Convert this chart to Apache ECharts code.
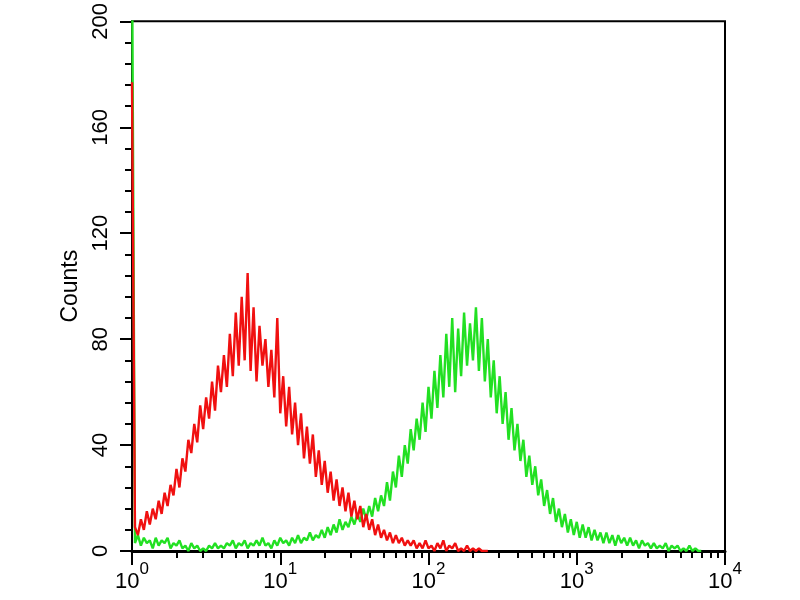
<!DOCTYPE html>
<html>
<head>
<meta charset="utf-8">
<script src="https://cdn.jsdelivr.net/npm/echarts@6/dist/echarts.min.js"></script>
<style>html,body{margin:0;padding:0;background:#fff}#c{width:800px;height:600px}</style>
</head>
<body>
<div id="c"></div>
<script>
// Histogram channels: log10 position of channel i = i * channelStep
var channelStep = 0.02;
// Counts per channel (isotype control, red)
var redCounts = [177,9,6,12,8,15,10,16,12,19,14,22,17,25,21,31,24,35,30,42,
  37,48,41,55,46,58,50,64,53,70,60,74,62,82,66,90,70,96,72,105,
  68,92,64,85,70,80,62,76,58,88,52,66,47,62,44,56,40,52,35,47,
  33,44,28,38,25,34,22,30,19,27,17,24,15,22,13,19,12,17,9,14,
  8,12,6,10,5,8,4,7,3,6,3,5,2,4,2,4,1,3,1,4,
  1,2,0,3,1,4,0,2,1,3,0,1,0,2,0,1,0,1,0,0,0];
// Counts per channel (stained sample, green)
var greenCounts = [230,3,6,2,5,3,4,1,5,2,4,3,5,1,3,2,4,1,2,0,
  3,1,2,0,1,0,2,1,3,1,2,1,3,2,4,1,3,2,4,1,
  3,2,4,2,5,2,3,1,4,2,5,3,4,2,5,3,6,3,5,4,
  7,4,6,5,8,5,9,6,10,7,12,8,11,9,13,10,14,11,16,12,
  17,13,20,15,21,17,26,19,30,24,36,28,40,33,46,38,50,42,56,45,
  62,50,68,54,74,58,82,62,88,60,84,66,90,70,86,72,92,68,88,64,
  80,58,72,52,66,48,60,42,54,38,48,34,42,28,36,25,32,21,27,17,
  23,14,20,11,16,9,14,7,12,6,11,5,10,5,9,4,8,4,7,3,
  7,3,6,2,6,3,5,2,5,2,4,1,4,2,3,1,3,1,2,1,
  3,0,2,1,2,0,1,0,2,0,1,0,0];
// Axis ticks
var majorTicks = [1, 10, 100, 1000, 10000];
var minorMultipliers = [2, 3, 4, 5, 6, 7, 8, 9];
var yTicks = [0, 40, 80, 120, 160, 200];

function toPoints(counts) {
  return counts.map(function (c, i) { return [Math.pow(10, i * channelStep), c]; });
}
var minorTicks = [];
majorTicks.slice(0, 4).forEach(function (d) {
  minorMultipliers.forEach(function (m) { minorTicks.push(d * m); });
});

var chart = echarts.init(document.getElementById('c'), null, {renderer: 'canvas'});
var font = 'Liberation Sans, Arial, sans-serif';
chart.setOption({
  animation: false,
  backgroundColor: '#fff',
  grid: {left: 132, right: 75, top: 21, bottom: 49, show: true, borderColor: '#000', borderWidth: 2, backgroundColor: 'transparent'},
  xAxis: [{
    type: 'log', logBase: 10, min: 1, max: 10000,
    axisLine: {lineStyle: {color: '#000', width: 3}},
    axisTick: {length: 14, lineStyle: {color: '#000', width: 2}},
    minorTick: {show: false},
    splitLine: {show: false},
    axisLabel: {
      margin: 10, showMaxLabel: true, showMinLabel: true,
      formatter: function (v) { return '{b|10}{s|' + Math.round(Math.log10(v)) + '}'; },
      rich: {
        b: {fontSize: 22, fontFamily: font, color: '#000', verticalAlign: 'bottom', padding: [10, 0, 0, 0]},
        s: {fontSize: 17, fontFamily: font, color: '#000', verticalAlign: 'top'}
      }
    }
  }, {
    type: 'log', logBase: 10, min: 1, max: 10000, position: 'bottom',
    axisLine: {show: false},
    axisTick: {customValues: minorTicks, length: 7, lineStyle: {color: '#000', width: 2}},
    axisLabel: {show: false},
    splitLine: {show: false}
  }],
  yAxis: {
    type: 'value', min: 0, max: 200, interval: 40,
    name: 'Counts', nameLocation: 'middle', nameGap: 48,
    nameTextStyle: {fontSize: 23, fontFamily: font, color: '#000'},
    axisLine: {show: true, lineStyle: {color: '#000', width: 2}},
    axisTick: {show: true, length: 12, lineStyle: {color: '#000', width: 2}},
    minorTick: {show: true, splitNumber: 5, length: 7, lineStyle: {color: '#000', width: 2}},
    splitLine: {show: false},
    axisLabel: {
      rotate: 90, margin: 20, fontSize: 22, fontFamily: font, color: '#000',
      customValues: yTicks
    }
  },
  series: [{
    type: 'line', name: 'stained', xAxisIndex: 0,
    data: toPoints(greenCounts), showSymbol: false, clip: true,
    lineStyle: {color: '#22e022', width: 2.4}, itemStyle: {color: '#22e022'}
  }, {
    type: 'line', name: 'control', xAxisIndex: 0,
    data: toPoints(redCounts), showSymbol: false, clip: true,
    lineStyle: {color: '#f01010', width: 2.4}, itemStyle: {color: '#f01010'}
  }]
});
</script>
</body>
</html>
